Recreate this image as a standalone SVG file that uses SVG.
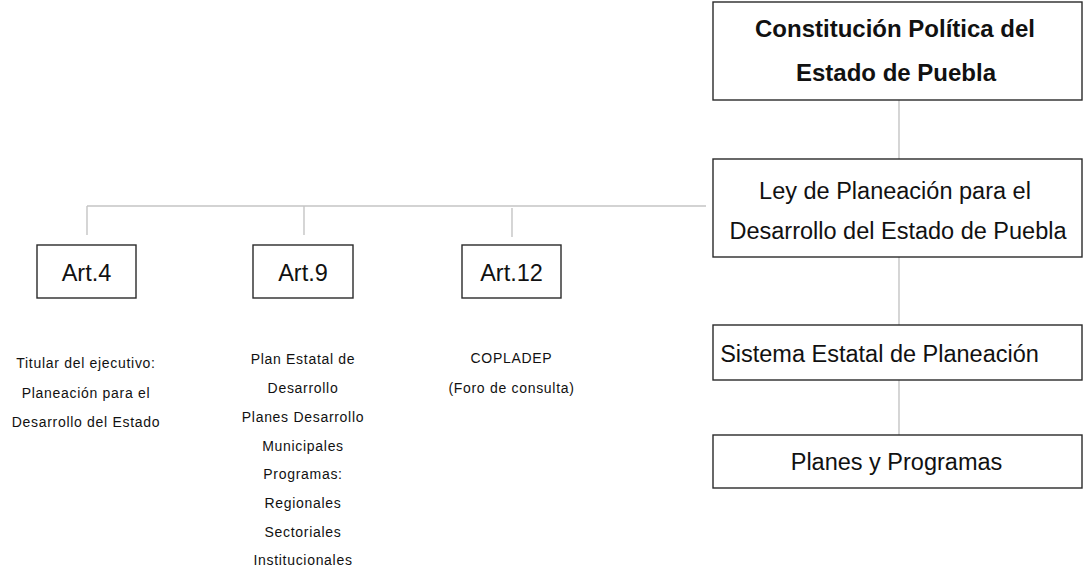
<svg xmlns="http://www.w3.org/2000/svg" width="1083" height="571" viewBox="0 0 1083 571">
<style>
.box{fill:#fff;stroke:#2a2a2a;stroke-width:1.4}
.t{font-family:"Liberation Sans",Arial,sans-serif;fill:#111;text-anchor:middle}
.big{font-size:23.5px}
.bold{font-size:24px;font-weight:bold}
.sm{font-size:14px;letter-spacing:0.7px}
.c{stroke:#c4c4c4;stroke-width:1.4;fill:none}
</style>
<rect width="1083" height="571" fill="#fff"/>
<g id="connectors">
<line class="c" x1="899" y1="100" x2="899" y2="159"/>
<line class="c" x1="87" y1="206" x2="706" y2="206"/>
<line class="c" x1="87" y1="206" x2="87" y2="235"/>
<line class="c" x1="304" y1="206" x2="304" y2="235"/>
<line class="c" x1="512" y1="208" x2="512" y2="237"/>
<line class="c" x1="899" y1="257" x2="899" y2="325"/>
<line class="c" x1="899" y1="380" x2="899" y2="435"/>
</g>
<g id="constitucion">
<rect class="box" x="713" y="2" width="369" height="98"/>
<text class="t bold" x="895" y="37">Constitución Política del</text>
<text class="t bold" x="896" y="81">Estado de Puebla</text>
</g>
<g id="ley">
<rect class="box" x="713" y="159" width="369" height="98"/>
<text class="t big" x="895" y="199">Ley de Planeación para el</text>
<text class="t big" x="898" y="239">Desarrollo del Estado de Puebla</text>
</g>
<g id="sistema">
<rect class="box" x="713" y="325" width="369" height="55"/>
<text class="t big" x="879.5" y="362">Sistema Estatal de Planeación</text>
</g>
<g id="planes">
<rect class="box" x="713" y="435" width="369" height="53"/>
<text class="t big" x="896.5" y="470">Planes y Programas</text>
</g>
<g id="art4">
<rect class="box" x="37" y="245" width="99" height="53"/>
<text class="t big" x="86.5" y="281">Art.4</text>
</g>
<g id="art9">
<rect class="box" x="253" y="245" width="100" height="53"/>
<text class="t big" x="303" y="281">Art.9</text>
</g>
<g id="art12">
<rect class="box" x="462" y="245" width="99" height="53"/>
<text class="t big" x="511.5" y="281">Art.12</text>
</g>
<g id="desc4">
<text class="t sm" x="86" y="368">Titular del ejecutivo:</text>
<text class="t sm" x="86" y="398">Planeación para el</text>
<text class="t sm" x="86" y="427">Desarrollo del Estado</text>
</g>
<g id="desc9">
<text class="t sm" x="303" y="364">Plan Estatal de</text>
<text class="t sm" x="303" y="393">Desarrollo</text>
<text class="t sm" x="303" y="422">Planes Desarrollo</text>
<text class="t sm" x="303" y="451">Municipales</text>
<text class="t sm" x="303" y="479">Programas:</text>
<text class="t sm" x="303" y="508">Regionales</text>
<text class="t sm" x="303" y="537">Sectoriales</text>
<text class="t sm" x="303" y="565">Institucionales</text>
</g>
<g id="desc12">
<text class="t sm" x="511.5" y="363">COPLADEP</text>
<text class="t sm" x="511.5" y="393">(Foro de consulta)</text>
</g>
</svg>
